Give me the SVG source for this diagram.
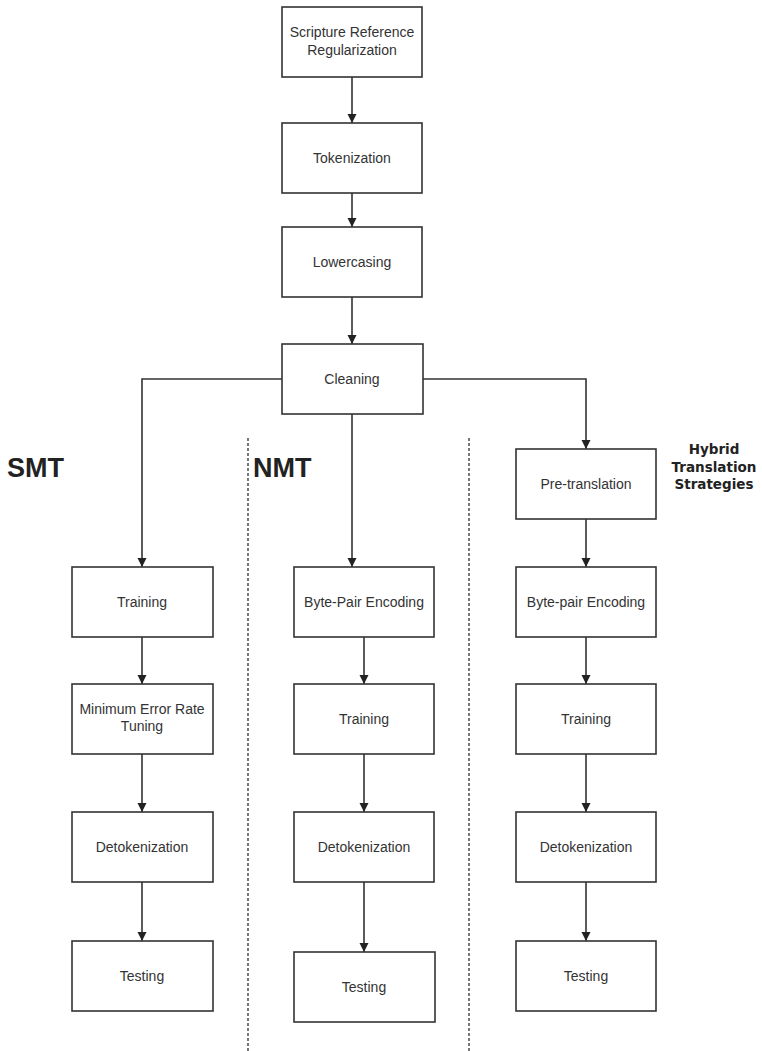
<svg xmlns="http://www.w3.org/2000/svg" width="762" height="1051" viewBox="0 0 762 1051">
  <style>
    .box rect { fill: #ffffff; stroke: #333333; stroke-width: 1.6; }
    .box text { font-family: "Liberation Sans", Arial, sans-serif; font-size: 14px; fill: #333333; text-anchor: middle; }
    .conn path { fill: none; stroke: #333333; stroke-width: 1.6; }
    .sep { stroke: #555555; stroke-width: 1.6; stroke-dasharray: 3 2; }
    .head { font-family: "Liberation Sans", Arial, sans-serif; font-weight: bold; font-size: 27px; fill: #222222; }
    .side { font-family: "DejaVu Sans", Verdana, sans-serif; font-weight: bold; font-size: 13.5px; fill: #222222; text-anchor: middle; }
  </style>
  <defs>
    <marker id="arrow" markerWidth="10" markerHeight="10" refX="9" refY="5" orient="auto" markerUnits="userSpaceOnUse">
      <path d="M0,0.5 L9,5 L0,9.5 Z" fill="#222222"/>
    </marker>
  </defs>

  <rect width="762" height="1051" fill="#ffffff"/>

  <!-- column separators -->
  <line class="sep" x1="248" y1="438" x2="248" y2="1051"/>
  <line class="sep" x1="469" y1="438" x2="469" y2="1051"/>

  <!-- section headings -->
  <text class="head" x="7" y="477">SMT</text>
  <text class="head" x="253" y="477">NMT</text>
  <text class="side" x="714" y="454">Hybrid</text>
  <text class="side" x="714" y="472">Translation</text>
  <text class="side" x="714" y="489">Strategies</text>

  <!-- connectors -->
  <g id="connectors" class="conn">
    <path d="M352,77 V123" marker-end="url(#arrow)"/>
    <path d="M352,193 V227" marker-end="url(#arrow)"/>
    <path d="M352,297 V344" marker-end="url(#arrow)"/>
    <path d="M282,379 H142 V567" marker-end="url(#arrow)"/>
    <path d="M352,414 V567" marker-end="url(#arrow)"/>
    <path d="M423,379 H586 V449" marker-end="url(#arrow)"/>
    <!-- SMT -->
    <path d="M142,637 V684" marker-end="url(#arrow)"/>
    <path d="M142,754 V812" marker-end="url(#arrow)"/>
    <path d="M142,882 V941" marker-end="url(#arrow)"/>
    <!-- NMT -->
    <path d="M364,637 V684" marker-end="url(#arrow)"/>
    <path d="M364,754 V812" marker-end="url(#arrow)"/>
    <path d="M364,882 V952" marker-end="url(#arrow)"/>
    <!-- Hybrid -->
    <path d="M586,519 V567" marker-end="url(#arrow)"/>
    <path d="M586,637 V684" marker-end="url(#arrow)"/>
    <path d="M586,754 V812" marker-end="url(#arrow)"/>
    <path d="M586,882 V941" marker-end="url(#arrow)"/>
  </g>

  <!-- shared preprocessing -->
  <g id="scripture-ref" class="box">
    <rect x="282" y="7" width="140" height="70"/>
    <text x="352" y="37">Scripture Reference</text>
    <text x="352" y="55">Regularization</text>
  </g>
  <g id="tokenization" class="box">
    <rect x="282" y="123" width="140" height="70"/>
    <text x="352" y="163">Tokenization</text>
  </g>
  <g id="lowercasing" class="box">
    <rect x="282" y="227" width="140" height="70"/>
    <text x="352" y="267">Lowercasing</text>
  </g>
  <g id="cleaning" class="box">
    <rect x="282" y="344" width="141" height="70"/>
    <text x="352" y="384">Cleaning</text>
  </g>

  <!-- SMT pipeline -->
  <g id="smt-training" class="box">
    <rect x="72" y="567" width="141" height="70"/>
    <text x="142" y="607">Training</text>
  </g>
  <g id="smt-mert" class="box">
    <rect x="72" y="684" width="141" height="70"/>
    <text x="142" y="714">Minimum Error Rate</text>
    <text x="142" y="731">Tuning</text>
  </g>
  <g id="smt-detok" class="box">
    <rect x="72" y="812" width="141" height="70"/>
    <text x="142" y="852">Detokenization</text>
  </g>
  <g id="smt-testing" class="box">
    <rect x="72" y="941" width="141" height="70"/>
    <text x="142" y="981">Testing</text>
  </g>

  <!-- NMT pipeline -->
  <g id="nmt-bpe" class="box">
    <rect x="294" y="567" width="140" height="70"/>
    <text x="364" y="607">Byte-Pair Encoding</text>
  </g>
  <g id="nmt-training" class="box">
    <rect x="294" y="684" width="140" height="70"/>
    <text x="364" y="724">Training</text>
  </g>
  <g id="nmt-detok" class="box">
    <rect x="294" y="812" width="140" height="70"/>
    <text x="364" y="852">Detokenization</text>
  </g>
  <g id="nmt-testing" class="box">
    <rect x="294" y="952" width="141" height="70"/>
    <text x="364" y="992">Testing</text>
  </g>

  <!-- Hybrid pipeline -->
  <g id="hyb-pretranslation" class="box">
    <rect x="516" y="449" width="140" height="70"/>
    <text x="586" y="489">Pre-translation</text>
  </g>
  <g id="hyb-bpe" class="box">
    <rect x="516" y="567" width="140" height="70"/>
    <text x="586" y="607">Byte-pair Encoding</text>
  </g>
  <g id="hyb-training" class="box">
    <rect x="516" y="684" width="140" height="70"/>
    <text x="586" y="724">Training</text>
  </g>
  <g id="hyb-detok" class="box">
    <rect x="516" y="812" width="140" height="70"/>
    <text x="586" y="852">Detokenization</text>
  </g>
  <g id="hyb-testing" class="box">
    <rect x="516" y="941" width="140" height="70"/>
    <text x="586" y="981">Testing</text>
  </g>
</svg>
